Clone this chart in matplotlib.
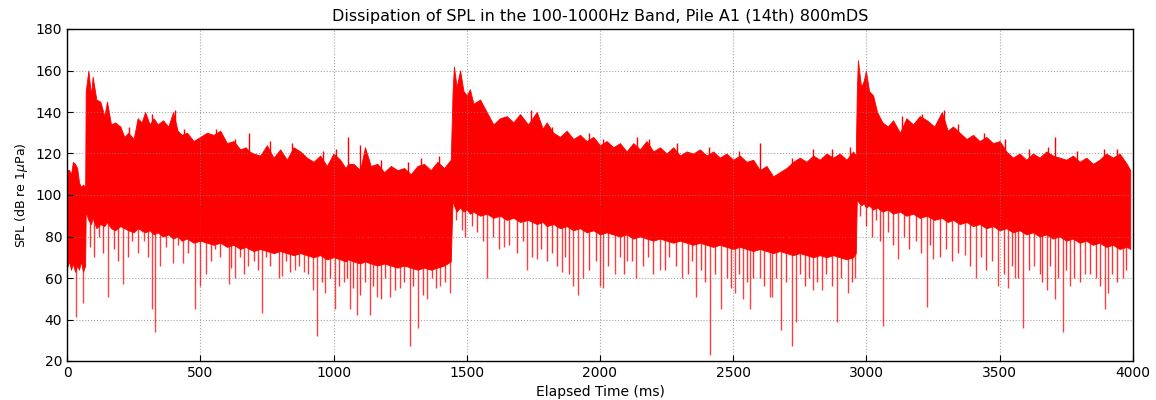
import matplotlib as mpl
mpl.use('Agg')
import matplotlib.pyplot as plt

# envelope of the SPL trace (ms, dB)
# first pulse tail (before the 1st strike)
t_a = [0, 8, 15, 22, 30, 38, 45, 52, 60, 68]
hi_a = [112, 112, 110, 116, 115, 113, 106, 104, 105, 104]
lo_a = [65, 68, 64, 67, 63, 66, 64, 68, 63, 66]

# strike 1
t_b = [70, 80, 90, 96, 110, 125, 140, 150, 165, 180,
       200, 215, 230, 250, 265, 280, 293, 310, 325, 340,
       360, 380, 398, 415, 430, 450, 475, 500, 525, 550,
       575, 600, 625, 650, 670, 684, 700, 725, 750, 775,
       800, 825, 850, 875, 900, 925, 950, 975, 1000, 1025,
       1045, 1055, 1075, 1100, 1118, 1140, 1165, 1190, 1215, 1240,
       1265, 1290, 1315, 1340, 1365, 1390, 1415, 1440]
hi_b = [150, 160, 148, 157, 146, 145, 138, 145, 134, 135,
        133, 128, 130, 127, 137, 135, 140, 134, 137, 134,
        136, 133, 140, 131, 129, 130, 126, 128, 130, 129,
        131, 125, 126, 122, 123, 121, 120, 119, 124, 118,
        122, 117, 123, 121, 118, 116, 119, 114, 120, 117,
        113, 115, 115, 112, 123, 114, 115, 111, 114, 112,
        113, 110, 114, 115, 112, 116, 113, 117]
lo_b = [92, 88, 86, 89, 84, 86, 85, 87, 84, 83,
        85, 84, 83, 82, 84, 83, 82, 83, 81, 82,
        80, 81, 79, 80, 78, 79, 77, 78, 77, 76,
        77, 75, 76, 74, 75, 74, 73, 74, 73, 72,
        73, 72, 71, 72, 71, 70, 71, 69, 70, 69,
        68, 69, 68, 67, 68, 67, 66, 67, 66, 65,
        66, 65, 64, 65, 64, 65, 66, 68]

# strike 2
t_c = [1447, 1452, 1462, 1475, 1488, 1500, 1512, 1525, 1550, 1575,
       1600, 1625, 1650, 1675, 1700, 1730, 1763, 1785, 1800, 1825,
       1850, 1875, 1900, 1925, 1950, 1975, 2000, 2025, 2050, 2075,
       2100, 2125, 2150, 2175, 2200, 2225, 2250, 2275, 2300, 2325,
       2350, 2375, 2400, 2425, 2450, 2475, 2500, 2525, 2550, 2575,
       2600, 2625, 2650, 2675, 2700, 2725, 2750, 2775, 2800, 2825,
       2850, 2875, 2900, 2925, 2950, 2960]
hi_c = [150, 162, 152, 160, 150, 148, 151, 144, 146, 140,
        134, 137, 138, 135, 139, 134, 140, 132, 135, 130,
        128, 131, 127, 129, 126, 128, 124, 126, 123, 125,
        121, 125, 122, 126, 121, 123, 120, 123, 119, 121,
        120, 122, 119, 121, 118, 120, 117, 119, 116, 117,
        112, 114, 109, 111, 113, 116, 118, 116, 119, 117,
        120, 118, 120, 117, 121, 119]
lo_c = [98, 95, 92, 94, 92, 93, 91, 92, 90, 91,
        89, 90, 88, 89, 87, 88, 86, 87, 85, 86,
        84, 85, 83, 84, 82, 83, 81, 82, 81, 80,
        81, 79, 80, 79, 78, 79, 78, 77, 78, 77,
        76, 77, 76, 75, 76, 75, 74, 75, 74, 73,
        74, 73, 72, 73, 72, 71, 72, 71, 70, 71,
        70, 71, 70, 69, 70, 72]

# strike 3
t_d = [2964, 2968, 2980, 2990, 2998, 3010, 3025, 3040, 3060, 3080,
       3100, 3126, 3150, 3175, 3200, 3227, 3255, 3283, 3305, 3325,
       3350, 3376, 3400, 3425, 3450, 3475, 3500, 3525, 3550, 3575,
       3600, 3625, 3650, 3675, 3700, 3725, 3750, 3775, 3800, 3825,
       3850, 3875, 3900, 3925, 3950, 3977, 3990]
hi_d = [150, 165, 152, 155, 160, 150, 148, 140, 135, 133,
        136, 130, 137, 134, 138, 136, 133, 140, 131, 133,
        130, 127, 129, 126, 128, 125, 126, 121, 118, 120,
        117, 120, 118, 121, 119, 118, 117, 119, 116, 118,
        115, 117, 120, 118, 120, 115, 112]
lo_d = [98, 97, 95, 96, 94, 95, 93, 94, 92, 93,
        91, 92, 90, 91, 89, 90, 88, 89, 87, 88,
        86, 87, 85, 86, 84, 85, 83, 84, 82, 83,
        81, 82, 80, 81, 79, 80, 78, 79, 77, 78,
        76, 77, 75, 76, 74, 75, 74]

# narrow upward spikes above the band
up_t = [684, 1055, 2600, 3707,
        232, 320, 405, 440, 560, 630, 760, 845, 960, 1010, 1100, 1180, 1280, 1330, 1395,
        1740, 1820, 1960, 2010, 2140, 2185, 2290, 2410, 2520, 2720, 2800, 2870, 2940,
        3135, 3210, 3290, 3345, 3440, 3520, 3610, 3680, 3790, 3890, 3940]
up_v = [130, 128, 125, 128,
        133, 139, 141, 132, 132, 127, 126, 125, 121, 122, 124, 117, 116, 118, 119,
        141, 133, 130, 127, 128, 127, 125, 123, 121, 118, 122, 122, 123,
        138, 139, 141, 134, 130, 127, 122, 123, 121, 122, 122]

# deep downward dips
dip_t = [34, 61, 155, 211, 265, 290, 318, 330, 350, 399, 437, 480, 500, 520,
         606, 630, 680, 730, 806, 855, 890, 924, 937, 968, 1006, 1040, 1062,
         1087, 1137, 1162, 1212, 1250, 1287, 1318, 1350, 1400, 1437,
         1481, 1575, 1640, 1725, 1762, 1856, 1900, 1919, 1937, 2000, 2012,
         2057, 2100, 2137, 2225, 2306, 2362, 2412, 2456, 2506, 2537, 2562,
         2600, 2637, 2644, 2681, 2719, 2737, 2800, 2832, 2888, 2931, 2957,
         3063, 3119, 3226, 3250, 3370, 3413, 3494, 3531, 3557, 3588, 3630,
         3676, 3707, 3738, 3763, 3820, 3895, 3907, 3963]
dip_v = [41, 48, 51, 57, 72, 78, 45, 34, 66, 67, 67, 45, 56, 62,
         57, 60, 66, 43, 61, 64, 63, 54, 32, 53, 45, 58, 45,
         42, 42, 51, 51, 55, 27, 36, 50, 56, 53,
         83, 60, 75, 64, 69, 63, 56, 52, 60, 56, 55,
         62, 68, 60, 64, 60, 51, 23, 45, 53, 50, 45,
         60, 51, 51, 35, 27, 39, 54, 54, 39, 53, 60,
         37, 69, 46, 69, 71, 60, 56, 55, 60, 36, 66,
         54, 50, 34, 56, 62, 45, 53, 60]

# shallower dips just below the solid band
dip2_t = [85, 100, 120, 135, 175, 190, 230, 245, 280, 305, 370, 385, 415, 455, 465,
          540, 555, 575, 590, 615, 650, 665, 700, 715, 745, 760, 780, 795, 820, 835,
          870, 905, 955, 985, 1020, 1050, 1075, 1100, 1120, 1150, 1180, 1195, 1230,
          1265, 1300, 1335, 1370, 1385, 1420,
          1460, 1495, 1520, 1540, 1560, 1600, 1620, 1660, 1690, 1710, 1745, 1780,
          1800, 1820, 1840, 1870, 1885, 1960, 1985, 2030, 2075, 2090, 2120, 2160,
          2180, 2200, 2245, 2260, 2285, 2330, 2345, 2380, 2395, 2430, 2475, 2490,
          2520, 2550, 2575, 2615, 2660, 2700, 2750, 2770, 2785, 2815, 2850, 2870,
          2905, 2945,
          2975, 3000, 3020, 3035, 3050, 3080, 3100, 3140, 3160, 3185, 3205, 3240,
          3275, 3300, 3320, 3345, 3390, 3430, 3450, 3470, 3515, 3545, 3570, 3610,
          3650, 3660, 3690, 3720, 3750, 3780, 3800, 3840, 3860, 3875, 3920, 3940, 3975]
dip2_v = [75, 70, 80, 72, 74, 68, 70, 78, 82, 70, 75, 82, 76, 72, 80,
          68, 74, 70, 77, 65, 70, 62, 68, 64, 70, 66, 72, 60, 68, 63,
          66, 62, 58, 60, 56, 60, 55, 52, 58, 56, 50, 60, 54,
          58, 56, 52, 60, 55, 58,
          88, 80, 85, 82, 78, 80, 74, 76, 72, 78, 70, 74,
          68, 72, 66, 70, 62, 64, 68, 66, 70, 62, 68, 66,
          70, 62, 64, 70, 66, 62, 68, 64, 58, 62, 60, 55,
          62, 58, 60, 56, 60, 58, 62, 56, 60, 58, 62, 56,
          60, 58,
          90, 85, 80, 88, 78, 82, 76, 80, 74, 78, 72, 76,
          70, 74, 68, 72, 66, 70, 64, 68, 62, 66, 60, 64,
          62, 58, 66, 60, 64, 60, 58, 62, 60, 56, 62, 58, 64]

t_env = t_a + t_b + t_c + t_d
hi_env = hi_a + hi_b + hi_c + hi_d
lo_env = lo_a + lo_b + lo_c + lo_d

fig = plt.figure(figsize=(11.56, 4.0), dpi=100)
ax = fig.add_axes([0.058, 0.0975, 0.922, 0.83])

ax.fill_between(t_env, lo_env, hi_env, color='red', linewidth=0.6, edgecolor='red')
ax.vlines(dip_t, dip_v, 95, color='red', linewidth=1.0, alpha=0.75)
ax.vlines(dip2_t, dip2_v, 95, color='red', linewidth=1.0, alpha=0.8)
ax.vlines(up_t, 105, up_v, color='red', linewidth=1.0)

ax.set_xlim(0, 4000)
ax.set_ylim(20, 180)
ax.set_xticks(range(0, 4001, 500))
ax.set_yticks(range(20, 181, 20))
ax.grid(True, color='gray', linestyle=':', linewidth=0.8, alpha=0.7)
ax.tick_params(direction='in', labelsize=10, length=4)
for s in ax.spines.values():
    s.set_linewidth(1.0)

ax.set_title('Dissipation of SPL in the 100-1000Hz Band, Pile A1 (14th) 800mDS', fontsize=11.5)
ax.set_xlabel('Elapsed Time (ms)', fontsize=10)
ax.set_ylabel(r'SPL (dB re 1$\mu$Pa)', fontsize=9)

plt.savefig('out.png')
plt.close()
